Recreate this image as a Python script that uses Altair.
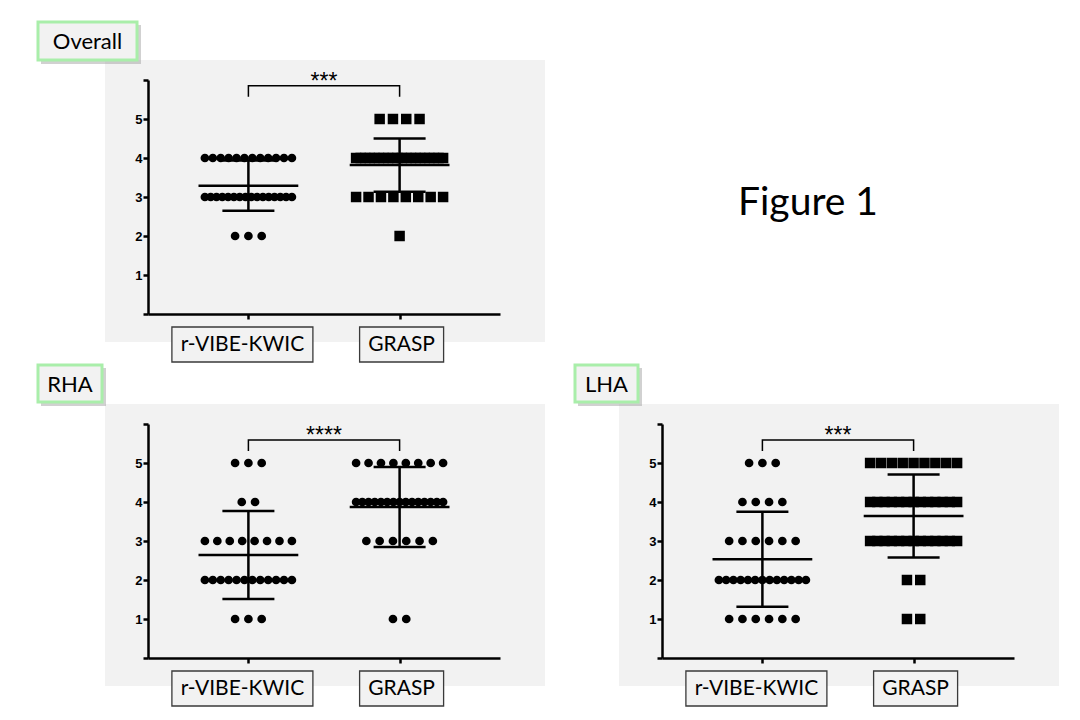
import altair as alt
import pandas as pd

# ---------------- data ----------------
groups = ["r-VIBE-KWIC", "GRASP"]
levels = [5, 4, 3, 2, 1]

# number of subjects at each score level (5,4,3,2,1)
overall_rvibe = [0, 12, 16, 3, 0]
overall_grasp = [4, 20, 8, 1, 0]
rha_rvibe = [3, 2, 8, 12, 3]
rha_grasp = [8, 15, 6, 0, 2]
lha_rvibe = [3, 4, 6, 13, 6]
lha_grasp = [9, 13, 13, 2, 2]

panel_titles = ["Overall", "RHA", "LHA"]
panel_stars = ["***", "****", "***"]
# marker used for the GRASP group in each panel
panel_grasp_shape = ["square", "circle", "square"]
figure_title = ["Figure 1"]

# ---------------- layout constants ----------------
W, H = 352, 234
XDOM = [-0.664, 1.664]
PXU = W / (XDOM[1] - XDOM[0])      # pixels per x unit
LABEL_FONT = "Lato"
CIRCLE_SIZE = 76
SQUARE_SIZE = 110


def expand(ca, cb):
    rows = []
    for gi, counts in enumerate([ca, cb]):
        for lv, n in zip(levels, counts):
            if n == 0:
                continue
            step = min(13.3, 87.0 / (n - 1)) if n > 1 else 0.0
            for i in range(n):
                off = (i - (n - 1) / 2.0) * step / PXU
                rows.append({"group": groups[gi], "gi": gi, "score": lv,
                             "xpos": gi + off})
    return pd.DataFrame(rows)


def panel(ca, cb, title, stars, grasp_shape, box, bracket_y):
    df = expand(ca, cb)
    one = pd.DataFrame({"a": [0]})

    xs = alt.Scale(domain=XDOM, nice=False, zero=False)
    ys = alt.Scale(domain=[0, 6], nice=False, zero=False)
    xax = alt.Axis(values=[0, 1], labels=False, title=None, grid=False,
                   tickSize=5, tickWidth=2.5, domainWidth=2.5,
                   domainColor="black", tickColor="black", zindex=2)
    yax = alt.Axis(values=[0, 1, 2, 3, 4, 5, 6],
                   labelExpr="datum.value >= 1 && datum.value <= 5 ? datum.label : ''",
                   labelOverlap=False,
                   title=None, grid=False, tickSize=5, tickWidth=2.5,
                   domainWidth=2.5, domainColor="black", tickColor="black",
                   labelFont="Liberation Sans", labelFontWeight="bold",
                   labelFontSize=13, labelColor="black", labelPadding=1, zindex=2)

    def X(f):
        return alt.X(f, scale=xs, axis=xax)

    def Y(f):
        return alt.Y(f, scale=ys, axis=yax)

    bg = alt.Chart(one).mark_rect(color="#f2f2f2").encode(
        x=alt.value(-43), x2=alt.value(397), y=alt.value(-20), y2=alt.value(262))

    base = alt.Chart(df)
    pts_a = base.transform_filter(alt.datum.gi == 0).mark_point(
        filled=True, opacity=1, color="black", shape="circle", size=CIRCLE_SIZE).encode(
        x=X("xpos:Q"), y=Y("score:Q"),
    )
    pts_b = base.transform_filter(alt.datum.gi == 1).mark_point(
        filled=True, opacity=1, color="black", shape=grasp_shape,
        size=SQUARE_SIZE if grasp_shape == "square" else CIRCLE_SIZE).encode(
        x=X("xpos:Q"), y=Y("score:Q"),
    )

    stats = base.transform_aggregate(
        m="mean(score)", sd="stdev(score)", groupby=["gi"]
    ).transform_calculate(
        lo="datum.m - datum.sd", hi="datum.m + datum.sd",
        ml="datum.gi - 0.33", mr="datum.gi + 0.33",
        cl="datum.gi - 0.172", cr="datum.gi + 0.172",
    )
    mean_line = stats.mark_rule(color="black", strokeWidth=2.5).encode(
        x=X("ml:Q"), x2="mr:Q", y=Y("m:Q"))
    vline = stats.mark_rule(color="black", strokeWidth=2.5).encode(
        x=X("gi:Q"), y=Y("lo:Q"), y2="hi:Q")
    cap_hi = stats.mark_rule(color="black", strokeWidth=2.5).encode(
        x=X("cl:Q"), x2="cr:Q", y=Y("hi:Q"))
    cap_lo = stats.mark_rule(color="black", strokeWidth=2.5).encode(
        x=X("cl:Q"), x2="cr:Q", y=Y("lo:Q"))

    br = pd.DataFrame({"bx": [0, 0, 1, 1],
                       "by": [bracket_y - 0.28, bracket_y, bracket_y, bracket_y - 0.28],
                       "o": [0, 1, 2, 3]})
    bracket = alt.Chart(br).mark_line(color="black", strokeWidth=1.5).encode(
        x=X("bx:Q"), y=Y("by:Q"), order="o:Q")
    star = alt.Chart(pd.DataFrame({"s": [stars], "sx": [0.5], "sy": [bracket_y - 0.07]})).mark_text(
        fontSize=23, font="Liberation Sans", color="black", baseline="alphabetic").encode(
        x=X("sx:Q"), y=Y("sy:Q"), text="s:N")

    lab = pd.DataFrame({"group": groups, "gi": [0, 1], "hw": [70.5, 42], "dx": [-6, 2]})
    lab_base = alt.Chart(lab).transform_calculate(
        x1="datum.gi + (datum.dx - datum.hw) / %f" % PXU,
        x2="datum.gi + (datum.dx + datum.hw) / %f" % PXU,
        xc="datum.gi + datum.dx / %f" % PXU,
    )
    lab_box = lab_base.mark_rect(fill="#f2f2f2", stroke="#3a3a3a", strokeWidth=1.3).encode(
        x=X("x1:Q"), x2="x2:Q", y=alt.value(247), y2=alt.value(282))
    lab_txt = lab_base.mark_text(font=LABEL_FONT, fontSize=21, color="black", baseline="middle").encode(
        x=X("xc:Q"), y=alt.value(265), text="group:N")

    bx0, bx1, by0, by1 = box
    tb = pd.DataFrame({"t": [title]})
    shadow = alt.Chart(tb).mark_rect(color="#9a9a9a", opacity=0.45).encode(
        x=alt.value(bx0 + 3), x2=alt.value(bx1 + 4), y=alt.value(by0 + 3), y2=alt.value(by1 + 4))
    tbox = alt.Chart(tb).mark_rect(fill="#f2f2f2", stroke="#a9eeaa", strokeWidth=3).encode(
        x=alt.value(bx0), x2=alt.value(bx1), y=alt.value(by0), y2=alt.value(by1))
    ttxt = alt.Chart(tb).mark_text(font=LABEL_FONT, fontSize=22, color="black",
                                   baseline="middle").encode(
        x=alt.value((bx0 + bx1) / 2), y=alt.value((by0 + by1) / 2 + 1), text="t:N")

    return alt.layer(bg, pts_a, pts_b, mean_line, vline, cap_hi, cap_lo, bracket, star,
                     lab_box, lab_txt, shadow, tbox, ttxt).properties(width=W, height=H)


p_over = panel(overall_rvibe, overall_grasp, panel_titles[0], panel_stars[0],
               panel_grasp_shape[0], (-110, -11, -58, -20), 5.85)
p_rha = panel(rha_rvibe, rha_grasp, panel_titles[1], panel_stars[1],
              panel_grasp_shape[1], (-110, -46, -59, -22), 5.59)
p_lha = panel(lha_rvibe, lha_grasp, panel_titles[2], panel_stars[2],
              panel_grasp_shape[2], (-87, -24, -59, -22), 5.59)

fig = alt.Chart(pd.DataFrame({"t": figure_title})).mark_text(
    font=LABEL_FONT, fontSize=39, color="black", baseline="middle").encode(
    x=alt.value(146), y=alt.value(123), text="t:N").properties(width=W, height=H)

chart = alt.concat(p_over, fig, p_rha, p_lha, columns=2,
                   spacing={"row": 110, "column": 162}, bounds="flush").properties(
    padding={"left": 28, "top": 12, "right": 5, "bottom": 5},
    background="white",
).configure_view(stroke=None).configure_axis(labelOverlap=False)

chart.save("out.html", embed_options={"renderer": "svg", "actions": False})
